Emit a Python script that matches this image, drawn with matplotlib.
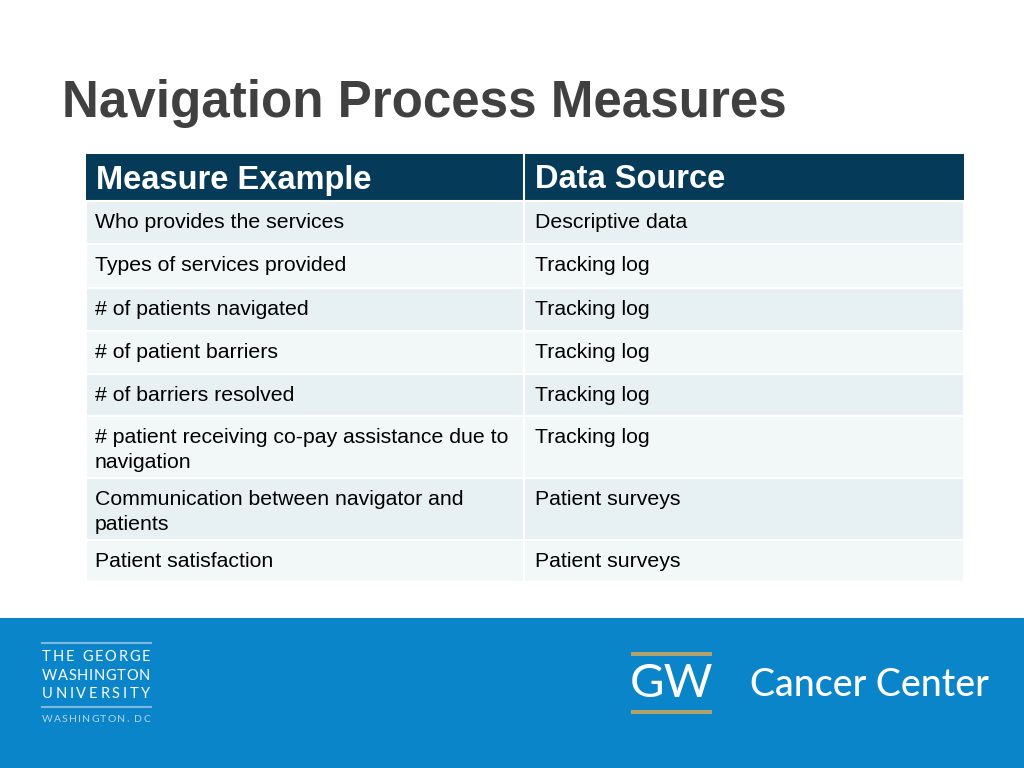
import matplotlib.pyplot as plt
from matplotlib.patches import Rectangle

plt.rcParams["font.family"] = ["Liberation Sans", "DejaVu Sans"]

# 表格内容
title = "Navigation Process Measures"
headers = ["Measure Example", "Data Source"]
measures = [
    "Who provides the services",
    "Types of services provided",
    "# of patients navigated",
    "# of patient barriers",
    "# of barriers resolved",
    "# patient receiving co-pay assistance due to\nnavigation",
    "Communication between navigator and\npatients",
    "Patient satisfaction",
]
sources = [
    "Descriptive data",
    "Tracking log",
    "Tracking log",
    "Tracking log",
    "Tracking log",
    "Tracking log",
    "Patient surveys",
    "Patient surveys",
]
row_edges = [201, 244, 288, 331, 374, 416, 478, 540, 582]
gwu_lines = ["THE GEORGE", "WASHINGTON", "UNIVERSITY"]

fig = plt.figure(figsize=(10.24, 7.68), dpi=100)
ax = fig.add_axes([0, 0, 1, 1])
ax.set_xlim(0, 1024)
ax.set_ylim(768, 0)
ax.axis("off")
renderer = fig.canvas.get_renderer()


def spaced_text(x_left, x_right, y, s, **kw):
    # 字母间距拉开，铺满 x_left..x_right
    widths = []
    for ch in s:
        t = ax.text(0, 0, ch if ch != " " else "n", **kw)
        bb = t.get_window_extent(renderer)
        widths.append(bb.width * 0.6 if ch == " " else bb.width)
        t.remove()
    gap = (x_right - x_left - sum(widths)) / (len(s) - 1)
    x = x_left
    for ch, w in zip(s, widths):
        if ch != " ":
            ax.text(x, y, ch, ha="left", va="center", **kw)
        x += w + gap


# 标题
ax.text(62, 104, title, fontsize=36.8, fontweight="bold", color="#404040",
        va="center", ha="left")

x0, xm, x1 = 86, 524, 964
# 表头
ax.add_patch(Rectangle((x0, 154), x1 - x0, 47, color="#063a59", lw=0))
ax.plot([xm, xm], [154, 201], color="white", lw=1.5)
ax.text(x0 + 10, 180, headers[0], fontsize=23.5, fontweight="bold", color="white", va="center")
ax.text(xm + 11, 180, headers[1], fontsize=23.5, fontweight="bold", color="white", va="center")

# 数据行
for i, (m, s) in enumerate(zip(measures, sources)):
    top, bot = row_edges[i], row_edges[i + 1]
    c = "#e7f1f3" if i % 2 == 0 else "#f2f7f8"
    ax.add_patch(Rectangle((x0, top), x1 - x0, bot - top, facecolor=c,
                           edgecolor="white", lw=1.5))
    ax.text(x0 + 9, top + 12, m, fontsize=15.3, color="black", va="top",
            linespacing=1.42)
    ax.text(xm + 11, top + 12, s, fontsize=15.3, color="black", va="top")
ax.plot([xm, xm], [201, 582], color="white", lw=1.5)

# 底部蓝色条
ax.add_patch(Rectangle((0, 618), 1024, 150, color="#0a85ca", lw=0))

# GWU 标志
ax.plot([42, 151], [643, 643], color="#7fb8de", lw=1.5)
ax.plot([42, 151], [707, 707], color="#7fb8de", lw=1.5)
for y, t in zip([657, 676, 694], gwu_lines):
    spaced_text(42, 150, y, t, fontsize=10.5, color="white", family="Lato")
spaced_text(42, 150, 719, "WASHINGTON, DC", fontsize=7.5, color="#b8d6ee",
            family="Lato")

# GW Cancer Center 标志
ax.add_patch(Rectangle((631, 652), 81, 4, color="#b3a16b", lw=0))
ax.add_patch(Rectangle((631, 710), 81, 4, color="#b3a16b", lw=0))
ax.text(671.5, 684, "GW", fontsize=34, color="white", ha="center", va="center",
        family="Lato")
ax.text(750, 686, "Cancer Center", fontsize=27, color="white", ha="left",
        va="center", family="Lato", fontweight="medium")

fig.savefig("out.png", dpi=100)
